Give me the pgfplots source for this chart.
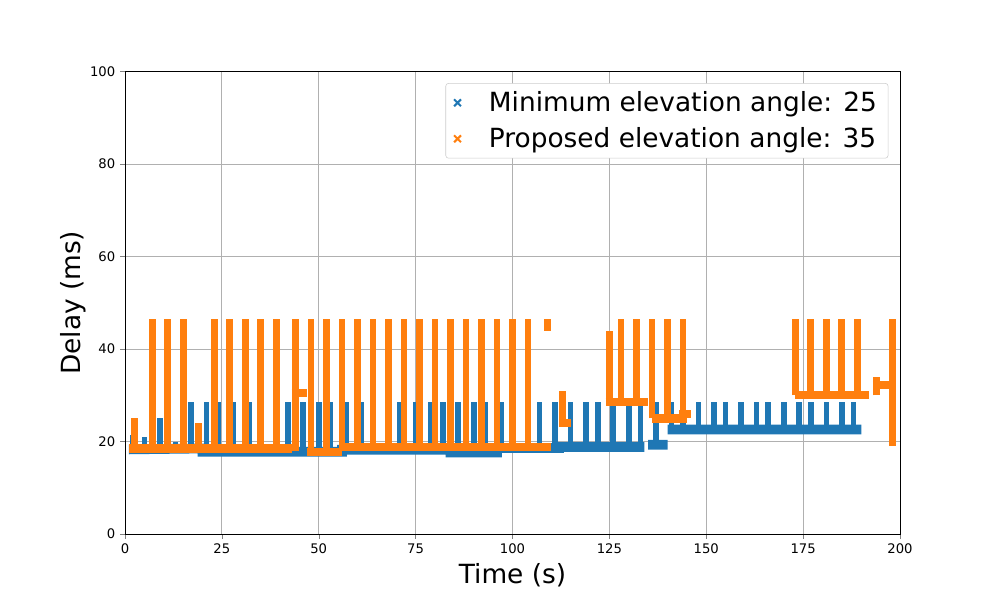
\documentclass[border=0pt]{standalone}
\usepackage{pgfplots}
\pgfplotsset{compat=1.18}
\usepackage{fontspec}
\setmainfont{DejaVu Sans}
\definecolor{mblue}{HTML}{1F77B4}
\definecolor{morange}{HTML}{FF7F0E}
\begin{document}
\begin{tikzpicture}
\begin{axis}[scale only axis, width=558pt, height=333pt, anchor=south west, at={(0,0)},
 xmin=0, xmax=200, ymin=0, ymax=100, xtick={0,25,...,200}, ytick={0,20,...,100},
 tick align=outside, tick pos=left, major tick length=3.5pt,
 grid=major, grid style={color=black!31, line width=0.6pt},
 tick label style={font=\fontsize{9.5}{11}\selectfont}, /pgf/number format/assume math mode=true,
 xlabel={Time (s)}, ylabel={Delay (ms)}, label style={font=\fontsize{19}{22}\selectfont},
 xlabel style={yshift=0pt}, ylabel style={yshift=-4pt},
 unbounded coords=jump,
 legend style={at={(0.985,0.975)}, anchor=north east, font=\fontsize{19}{22}\selectfont, draw=black!20, rounded corners=2pt, row sep=6pt, inner xsep=6pt, inner ysep=4pt},
 legend cell align=left]
\addlegendimage{only marks, mark=x, mark size=3.5pt, color=mblue, line width=1.5pt}
\addlegendentry{\ \ \ Minimum elevation angle: 25}
\addlegendimage{only marks, mark=x, mark size=3.5pt, color=morange, line width=1.5pt}
\addlegendentry{\ \ \ Proposed elevation angle: 35}
% blue baseline
\addplot[mblue, line width=7pt, forget plot] coordinates {(1,18.3)(20,18.5)(20,17.8)(56,17.8)(56,18.2)(84,18.2)(84,17.6)(96,17.6)(96,18.6)(112,18.6)(112,18.8)(134,18.8) (nan,nan)
 (135,19.3)(140,19.3) (nan,nan) (140,22.6)(190,22.6)};
% blue spikes
\addplot[mblue, line width=4pt, forget plot] coordinates {
(2,18)(2,21.5)(nan,nan)(5,18)(5,21)(nan,nan)(9,18)(9,25)(nan,nan)(13,18)(13,20)(nan,nan)
(17,18)(17,28.5)(nan,nan)(21,18)(21,28.5)(nan,nan)(24,18)(24,28.5)(nan,nan)(28,18)(28,28.5)(nan,nan)
(32,18)(32,28.5)(nan,nan)(35,18)(35,28.5)(nan,nan)(39,18)(39,28.5)(nan,nan)(42,18)(42,28.5)(nan,nan)
(46,18)(46,28.5)(nan,nan)(50,18)(50,28.5)(nan,nan)(53,18)(53,28.5)(nan,nan)(57,18)(57,28.5)(nan,nan)
(61,18)(61,28.5)(nan,nan)(64,18)(64,28.5)(nan,nan)(68,18)(68,28.5)(nan,nan)(71,18)(71,28.5)(nan,nan)
(75,18)(75,28.5)(nan,nan)(79,18)(79,28.5)(nan,nan)(82,18)(82,28.5)(nan,nan)(86,18)(86,28.5)(nan,nan)
(90,18)(90,28.5)(nan,nan)(93,18)(93,28.5)(nan,nan)(97,18)(97,28.5)(nan,nan)(100,18)(100,28.5)(nan,nan)
(104,18)(104,28.5)(nan,nan)(107,18)(107,28.5)(nan,nan)(111,18)(111,28.5)(nan,nan)(115,18.5)(115,28.5)(nan,nan)
(119,18.5)(119,28.5)(nan,nan)(122,18.5)(122,28.5)(nan,nan)(126,18.5)(126,28.5)(nan,nan)(130,18.5)(130,28.5)(nan,nan)
(133,18.5)(133,28.5)(nan,nan)(137,19)(137,28.5)(nan,nan)(141,22.5)(141,28.5)(nan,nan)(144,22.5)(144,28.5)(nan,nan)
(148,22.5)(148,28.5)(nan,nan)(152,22.5)(152,28.5)(nan,nan)(155,22.5)(155,28.5)(nan,nan)(159,22.5)(159,28.5)(nan,nan)
(163,22.5)(163,28.5)(nan,nan)(166,22.5)(166,28.5)(nan,nan)(170,22.5)(170,28.5)(nan,nan)(174,22.5)(174,28.5)(nan,nan)
(177,22.5)(177,28.5)(nan,nan)(181,22.5)(181,28.5)(nan,nan)(185,22.5)(185,28.5)(nan,nan)(188,22.5)(188,28.5)};
% orange baselines
\addplot[morange, line width=6pt, forget plot] coordinates {(1,18.5)(43,18.5)(nan,nan)(43,30.5)(47,30.5)(nan,nan)(47,17.8)(56,17.8)(nan,nan)(56,18.8)(110,18.8)(nan,nan)
(112,24)(115,24)(nan,nan)(124,28.5)(135,28.5)(nan,nan)(136,25)(144,25)(144,26)(146,26)(nan,nan)(173,30)(192,30)(nan,nan)(193,32.2)(198,32.2)};
% orange spikes
\addplot[morange, line width=5pt, forget plot] coordinates {
(2.5,18)(2.5,25)(nan,nan)(7,18)(7,46.5)(nan,nan)(11,18)(11,46.5)(nan,nan)(15,18)(15,46.5)(nan,nan)(19,18)(19,24)(nan,nan)
(23,18)(23,46.5)(nan,nan)(27,18)(27,46.5)(nan,nan)(31,18)(31,46.5)(nan,nan)(35,18)(35,46.5)(nan,nan)(39,18)(39,46.5)(nan,nan)
(44,18)(44,46.5)(nan,nan)(48,18)(48,46.5)(nan,nan)(52,18)(52,46.5)(nan,nan)(56,18)(56,46.5)(nan,nan)(60,18)(60,46.5)(nan,nan)
(64,18)(64,46.5)(nan,nan)(68,18)(68,46.5)(nan,nan)(72,18)(72,46.5)(nan,nan)(76,18)(76,46.5)(nan,nan)(80,18)(80,46.5)(nan,nan)
(84,18)(84,46.5)(nan,nan)(88,18)(88,46.5)(nan,nan)(92,18)(92,46.5)(nan,nan)(96,18)(96,46.5)(nan,nan)(100,18)(100,46.5)(nan,nan)
(104,18)(104,46.5)(nan,nan)(109,44)(109,46.5)(nan,nan)(113,23.5)(113,31)(nan,nan)
(125,28.5)(125,44)(nan,nan)(128,28.5)(128,46.5)(nan,nan)(132,28.5)(132,46.5)(nan,nan)(136,25)(136,46.5)(nan,nan)
(140,25)(140,46.5)(nan,nan)(144,25)(144,46.5)(nan,nan)
(173,30)(173,46.5)(nan,nan)(177,30)(177,46.5)(nan,nan)(181,30)(181,46.5)(nan,nan)(185,30)(185,46.5)(nan,nan)(189,30)(189,46.5)(nan,nan)
(194,30)(194,34)(nan,nan)(198,19)(198,46.5)};
\end{axis}
\path (-90pt,-47.5pt) rectangle (630pt,384.5pt);
\end{tikzpicture}
\end{document}
